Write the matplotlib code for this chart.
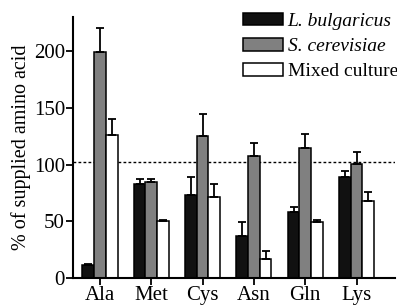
import matplotlib.pyplot as plt
import numpy as np

# --- data ---
amino_acids = ['Ala', 'Met', 'Cys', 'Asn', 'Gln', 'Lys']
series = ['L. bulgaricus', 'S. cerevisiae', 'Mixed culture']
bulgaricus = [11.5, 83, 73, 37, 58, 89]
bulgaricus_err = [0.8, 4.5, 16, 12, 5, 5]
cerevisiae = [199.5, 85, 125.5, 108, 114.5, 100.5]
cerevisiae_err = [21, 2.5, 19.5, 11, 12.5, 10.5]
mixed = [126.5, 50, 71, 17, 49, 68]
mixed_err = [14, 1, 12, 7, 2.5, 8]
reference_level = 102

plt.rcParams['font.family'] = ['Liberation Serif', 'DejaVu Serif']

fig = plt.figure(figsize=(3.97, 3.06), dpi=100)
ax = fig.add_axes([0.1846, 0.0915, 0.8104, 0.8525])

x = np.arange(len(amino_acids))
w = 0.228
values = [bulgaricus, cerevisiae, mixed]
errors = [bulgaricus_err, cerevisiae_err, mixed_err]
colors = ['#111111', '#808080', 'white']

for i, (vals, errs, col, lab) in enumerate(zip(values, errors, colors, series)):
    pos = x + (i - 1) * w
    ax.bar(pos, vals, width=w, color=col, edgecolor='black', linewidth=1.1,
           label=lab, zorder=2)
    ax.errorbar(pos, vals, yerr=[np.zeros(len(vals)), errs], fmt='none',
                ecolor='black', elinewidth=1.3, capsize=2.8, capthick=1.3, zorder=3)

ax.axhline(reference_level, color='black', linestyle=(0, (2, 1.6)), linewidth=1.0, zorder=1)

ax.set_xlim(-0.52, 5.75)
ax.set_ylim(0, 230)
ax.set_yticks([0, 50, 100, 150, 200])
ax.set_xticks(x)
ax.set_xticklabels(amino_acids)
ax.tick_params(labelsize=15, width=1.3, length=5, pad=1)
ax.set_ylabel('% of supplied amino acid', fontsize=14.5, labelpad=2)

for s in ['top', 'right']:
    ax.spines[s].set_visible(False)
for s in ['left', 'bottom']:
    ax.spines[s].set_linewidth(1.5)

leg = fig.legend(loc='upper left', bbox_to_anchor=(243 / 397, 1 - 13 / 306),
                 frameon=False, fontsize=14, borderpad=0, borderaxespad=0,
                 handlelength=2.05, handleheight=0.6, handletextpad=0.25,
                 labelspacing=0.42)
for t in leg.get_texts()[:2]:
    t.set_style('italic')

fig.savefig('out.png', dpi=100)
